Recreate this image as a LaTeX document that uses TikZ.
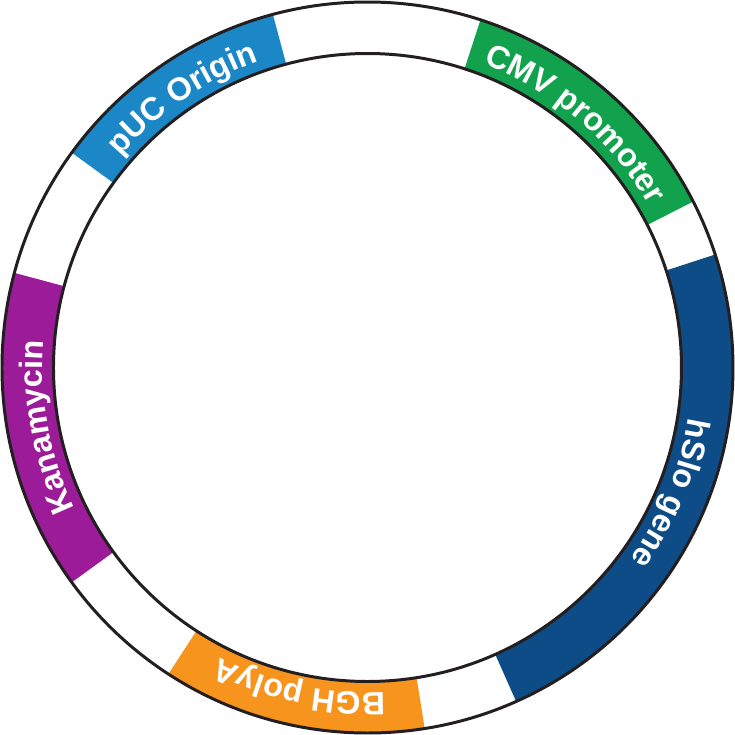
\documentclass[tikz,border=0pt]{standalone}
\usepackage{fontspec}
\setsansfont{Liberation Sans}
\usetikzlibrary{decorations.text}
\definecolor{pucBlue}{HTML}{1B87C6}
\definecolor{cmvGreen}{HTML}{12A14C}
\definecolor{hsloBlue}{HTML}{0E4C87}
\definecolor{bghOrange}{HTML}{F7941E}
\definecolor{kanPurple}{HTML}{9B1B98}
\definecolor{ringBlack}{HTML}{231F20}
\newcommand{\segfont}{\sffamily\bfseries\fontsize{9.2}{11}\selectfont}
\tikzstyle{ringLine}=[draw = ringBlack, line width = 0.85pt]
\tikzstyle{segLabel}=[decorate, decoration = {text along path, text align = center, text color = white}]

\begin{document}
\begin{tikzpicture}
\useasboundingbox (-3.675,-3.675) rectangle (3.675,3.675);
% segments
\fill[pucBlue] (105:3.655) arc[start angle = 105, end angle = 144, radius = 3.655] -- (144:3.14) arc[start angle = 144, end angle = 105, radius = 3.14] -- cycle;
\fill[cmvGreen] (27:3.655) arc[start angle = 27, end angle = 72, radius = 3.655] -- (72:3.14) arc[start angle = 72, end angle = 27, radius = 3.14] -- cycle;
\fill[hsloBlue] (-66:3.655) arc[start angle = -66, end angle = 18, radius = 3.655] -- (18:3.14) arc[start angle = 18, end angle = -66, radius = 3.14] -- cycle;
\fill[bghOrange] (-123:3.655) arc[start angle = -123, end angle = -81, radius = 3.655] -- (-81:3.14) arc[start angle = -81, end angle = -123, radius = 3.14] -- cycle;
\fill[kanPurple] (165:3.655) arc[start angle = 165, end angle = 216, radius = 3.655] -- (216:3.14) arc[start angle = 216, end angle = 165, radius = 3.14] -- cycle;
% labels
\path[segLabel, decoration = {text = {|\segfont|pUC Origin}}] (144:3.25) arc[start angle = 144, end angle = 105, radius = 3.25];
\path[segLabel, decoration = {text = {|\segfont|CMV promoter}}] (72:3.25) arc[start angle = 72, end angle = 27, radius = 3.25];
\path[segLabel, decoration = {text = {|\segfont|hSlo gene}}] (18:3.25) arc[start angle = 18, end angle = -63, radius = 3.25];
\path[segLabel, decoration = {text = {|\segfont|BGH polyA}}] (-81:3.25) arc[start angle = -81, end angle = -123, radius = 3.25];
\path[segLabel, decoration = {text = {|\segfont|Kanamycin}}] (216:3.25) arc[start angle = 216, end angle = 165, radius = 3.25];
% ring
\draw[ringLine] (0,0) circle (3.655);
\draw[ringLine] (0,0) circle (3.14);
\end{tikzpicture}
\end{document}
